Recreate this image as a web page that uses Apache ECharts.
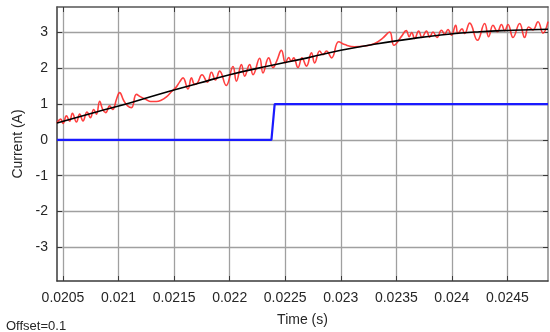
<!DOCTYPE html>
<html>
<head>
<meta charset="utf-8">
<script src="https://cdn.jsdelivr.net/npm/echarts@6/dist/echarts.min.js"></script>
<style>
  html, body { margin: 0; padding: 0; background: #fff; }
  #chart { width: 550px; height: 332px; }
</style>
</head>
<body>
<div id="chart"></div>
<script>
// Time window (s) and current window (A)
const timeMin = 0.020446;
const timeMax = 0.024865;
const currentMin = -3.94;
const currentMax = 3.71;

// Tick labels
const timeTicks = [0.0205, 0.021, 0.0215, 0.022, 0.0225, 0.023, 0.0235, 0.024, 0.0245];
const currentTicks = [-3, -2, -1, 0, 1, 2, 3];

// Measured current with ripple: [time (s), current (A)]
const measured = [
  [0.020446, 0.47], [0.020455, 0.52], [0.020479, 0.58], [0.020500, 0.46],
  [0.020531, 0.67], [0.020560, 0.52], [0.020585, 0.74], [0.020621, 0.50],
  [0.020650, 0.72], [0.020680, 0.53], [0.020716, 0.78], [0.020747, 0.62],
  [0.020776, 0.85], [0.020801, 0.72], [0.020830, 1.08], [0.020857, 0.85],
  [0.020884, 0.76], [0.020920, 0.95], [0.020947, 0.85], [0.020983, 1.15],
  [0.021010, 1.32], [0.021046, 1.10], [0.021082, 0.95], [0.021116, 0.90],
  [0.021161, 1.27], [0.021199, 1.20], [0.021251, 1.12], [0.021289, 1.07],
  [0.021341, 1.07], [0.021379, 1.10], [0.021431, 1.20], [0.021478, 1.35],
  [0.021521, 1.48], [0.021550, 1.62], [0.021580, 1.73], [0.021625, 1.42],
  [0.021656, 1.73], [0.021685, 1.55], [0.021710, 1.59], [0.021751, 1.82],
  [0.021800, 1.61], [0.021836, 1.89], [0.021872, 1.67], [0.021910, 1.92],
  [0.021969, 1.52], [0.022030, 2.05], [0.022061, 1.64], [0.022106, 2.10],
  [0.022135, 1.78], [0.022180, 2.10], [0.022210, 1.82], [0.022270, 2.28],
  [0.022300, 1.87], [0.022351, 2.29], [0.022390, 2.02], [0.022423, 2.20],
  [0.022466, 2.50], [0.022502, 2.15], [0.022531, 2.30], [0.022554, 2.20],
  [0.022576, 2.29], [0.022615, 2.02], [0.022651, 2.29], [0.022691, 2.06],
  [0.022736, 2.43], [0.022765, 2.15], [0.022810, 2.48], [0.022840, 2.38],
  [0.022871, 2.48], [0.022918, 2.29], [0.022981, 2.74], [0.023035, 2.66],
  [0.023125, 2.60], [0.023215, 2.62], [0.023305, 2.69], [0.023380, 2.85],
  [0.023440, 3.01], [0.023479, 2.64], [0.023546, 2.89], [0.023589, 3.05],
  [0.023616, 2.88], [0.023638, 3.00], [0.023665, 2.83], [0.023701, 3.04],
  [0.023731, 2.86], [0.023771, 3.04], [0.023800, 2.87], [0.023830, 3.01],
  [0.023866, 2.86], [0.023906, 3.06], [0.023935, 2.95], [0.023965, 3.08],
  [0.023996, 2.92], [0.024034, 3.20], [0.024055, 2.97], [0.024091, 3.10],
  [0.024115, 2.97], [0.024160, 3.26], [0.024230, 2.78], [0.024295, 3.25],
  [0.024331, 2.88], [0.024370, 3.20], [0.024410, 3.02], [0.024446, 3.22],
  [0.024475, 3.05], [0.024505, 3.22], [0.024550, 2.86], [0.024610, 3.25],
  [0.024655, 2.86], [0.024691, 3.15], [0.024730, 3.07], [0.024775, 3.30],
  [0.024820, 2.98], [0.024865, 3.30]
];

// Smoothed (average) current: [time (s), current (A)]
const averaged = [
  [0.020446, 0.47], [0.0208, 0.78], [0.0211, 1.03], [0.02145, 1.35],
  [0.02172, 1.58], [0.0220, 1.82], [0.02236, 2.07], [0.0227, 2.29],
  [0.0230, 2.50], [0.0233, 2.67], [0.02358, 2.80], [0.0239, 2.93],
  [0.02425, 3.02], [0.02455, 3.06], [0.024865, 3.09]
];

// Reference step: [time (s), current (A)]
const reference = [
  [0.020446, 0], [0.022376, 0], [0.022405, 1], [0.024865, 1]
];

const labelFont = 'Liberation Sans, Arial, sans-serif';

const chart = echarts.init(document.getElementById('chart'), null, { renderer: 'canvas' });

chart.setOption({
  animation: false,
  backgroundColor: '#ffffff',
  grid: { left: 57, right: 2, top: 7, bottom: 45, containLabel: false },
  xAxis: [
    {
      type: 'value',
      min: timeMin,
      max: timeMax,
      name: 'Time (s)',
      nameLocation: 'middle',
      nameGap: 32,
      nameTextStyle: { fontFamily: labelFont, fontSize: 14, color: '#262626' },
      axisLine: { show: true, onZero: false, lineStyle: { color: '#3a3a3a', width: 1.5 } },
      axisTick: { show: true, inside: true, length: 5, customValues: timeTicks, lineStyle: { color: '#3a3a3a' } },
      axisLabel: {
        customValues: timeTicks,
        margin: 10,
        fontFamily: labelFont,
        fontSize: 14,
        color: '#262626',
        formatter: v => String(v)
      },
      splitLine: { show: true, lineStyle: { color: '#a0a0a0', width: 1.3 } }
    },
    {
      type: 'value',
      position: 'top',
      min: timeMin,
      max: timeMax,
      axisLine: { show: true, onZero: false, lineStyle: { color: '#555', width: 1.5 } },
      axisTick: { show: true, inside: true, length: 5, customValues: timeTicks, lineStyle: { color: '#3a3a3a' } },
      axisLabel: { show: false },
      splitLine: { show: false }
    }
  ],
  yAxis: [
    {
      type: 'value',
      min: currentMin,
      max: currentMax,
      name: 'Current (A)',
      nameLocation: 'middle',
      nameGap: 32,
      nameRotate: 90,
      nameTextStyle: { fontFamily: labelFont, fontSize: 14, color: '#262626' },
      axisLine: { show: true, onZero: false, lineStyle: { color: '#3a3a3a', width: 1.5 } },
      axisTick: { show: true, inside: true, length: 5, customValues: currentTicks, lineStyle: { color: '#3a3a3a' } },
      axisLabel: {
        customValues: currentTicks,
        margin: 9,
        fontFamily: labelFont,
        fontSize: 14,
        color: '#262626'
      },
      splitLine: { show: true, lineStyle: { color: '#a0a0a0', width: 1.3 } }
    },
    {
      type: 'value',
      position: 'right',
      min: currentMin,
      max: currentMax,
      axisLine: { show: true, onZero: false, lineStyle: { color: '#8a8a8a', width: 1.5 } },
      axisTick: { show: true, inside: true, length: 5, customValues: currentTicks, lineStyle: { color: '#3a3a3a' } },
      axisLabel: { show: false },
      splitLine: { show: false }
    }
  ],
  graphic: [
    {
      type: 'text',
      left: 6,
      top: 320,
      style: { text: 'Offset=0.1', font: '13px ' + labelFont, fill: '#262626' }
    }
  ],
  series: [
    {
      type: 'line',
      data: measured,
      smooth: 0.45,
      showSymbol: false,
      lineStyle: { color: '#ff2a2a', width: 1.6, opacity: 0.9 },
      z: 2
    },
    {
      type: 'line',
      data: averaged,
      smooth: true,
      showSymbol: false,
      lineStyle: { color: '#000000', width: 1.6 },
      z: 3
    },
    {
      type: 'line',
      data: reference,
      showSymbol: false,
      lineStyle: { color: '#1a1aff', width: 2.2 },
      z: 4
    }
  ]
});
</script>
</body>
</html>
